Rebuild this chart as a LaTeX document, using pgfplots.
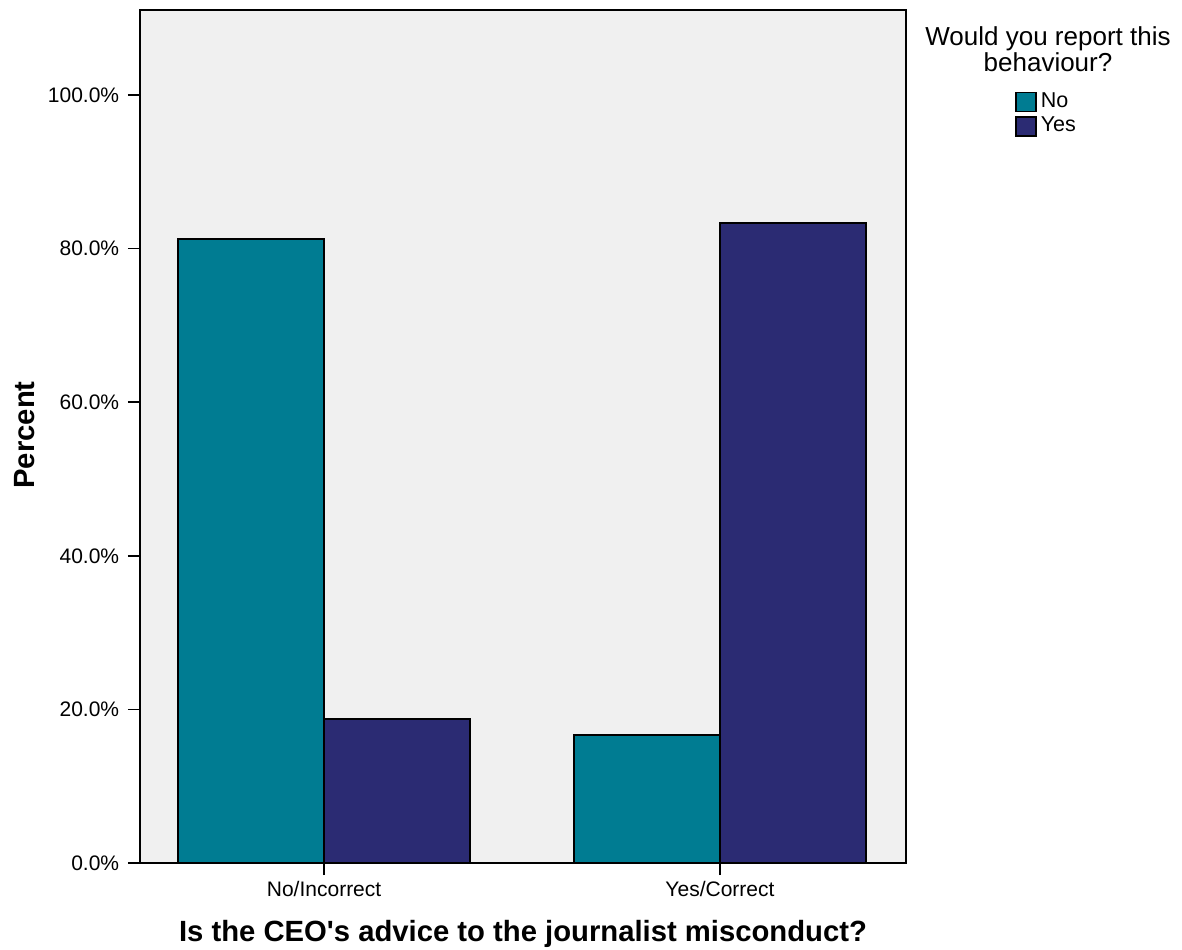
\documentclass[border=0pt]{standalone}
\usepackage{pgfplots}
\pgfplotsset{compat=1.18}
\usepackage{fontspec}
\setmainfont{Liberation Sans}
\definecolor{cNo}{RGB}{0,124,146}
\definecolor{cYes}{RGB}{43,43,115}
\definecolor{bgc}{RGB}{240,240,240}
\begin{document}
\begin{tikzpicture}
\begin{axis}[
  scale only axis,
  width=306.4pt, height=341.2pt,
  xmin=-0.465, xmax=1.47,
  ymin=0, ymax=111.07,
  clip=false,
  axis background/.style={fill=bgc},
  axis line style={line width=0.7pt},
  xtick={0,1},
  xticklabels={No/Incorrect,Yes/Correct},
  ytick={0,20,40,60,80,100},
  yticklabel={\pgfmathprintnumber[fixed,fixed zerofill,precision=1]{\tick}\%},
  /pgf/number format/assume math mode=true,
  tick align=outside,
  xtick pos=bottom, ytick pos=left,
  major tick length=4.8pt,
  tick style={black, line width=0.6pt},
  ticklabel style={font=\fontsize{8.4}{10}\selectfont},
  xticklabel style={yshift=0.9pt},
  bar width=0.369,
  legend style={at={(rel axis cs:1.142,0.9085)}, anchor=north west, draw=none, fill=none,
    inner sep=0pt, row sep=-0.8pt, font=\fontsize{8.6}{10}\selectfont,
    nodes={inner sep=1.6pt}},
  legend cell align=left,
  legend image code/.code={\draw[#1,draw=black,line width=0.6pt] (0pt,-3.8pt) rectangle (8pt,3.8pt);},
]
\addplot[ybar, bar shift=-0.1845, fill=cNo, draw=black, line width=0.6pt] coordinates {(0,81.25) (1,16.67)};
\addlegendentry{No}
\addplot[ybar, bar shift=0.1845, fill=cYes, draw=black, line width=0.6pt] coordinates {(0,18.75) (1,83.33)};
\addlegendentry{Yes}
\end{axis}
\node[align=center, font=\fontsize{10.4}{10.4}\selectfont, anchor=center] at (363.2pt,325.6pt) {Would you report this\\behaviour?};
\node[font=\fontsize{11.7}{13}\selectfont\bfseries, anchor=center] at (153.2pt,-28.2pt) {Is the CEO\textquotesingle s advice to the journalist misconduct?};
\node[font=\fontsize{11.7}{13}\selectfont\bfseries, anchor=center, rotate=90] at (-46pt,171.2pt) {Percent};
\pgfresetboundingbox
\path[use as bounding box] (-56pt,-34.4pt) rectangle (416.8pt,345.2pt);
\end{tikzpicture}
\end{document}
